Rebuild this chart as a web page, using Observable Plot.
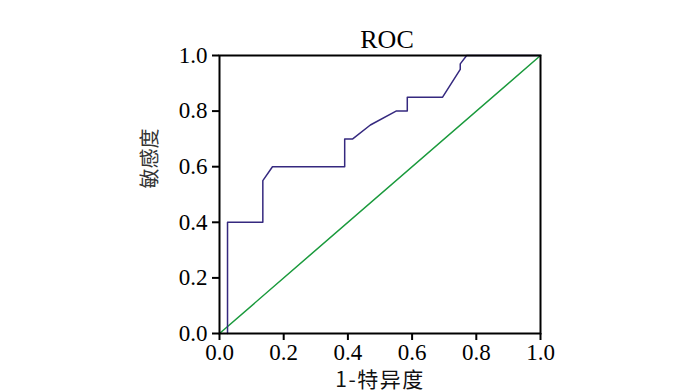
<!DOCTYPE html>
<html>
<head>
<meta charset="utf-8">
<script src="https://cdn.jsdelivr.net/npm/d3@7"></script>
<script src="https://cdn.jsdelivr.net/npm/@observablehq/plot@0.6"></script>
<style>
  html, body { margin: 0; padding: 0; background: #fff; }
</style>
</head>
<body>
<div id="chart"></div>
<script>
const rocFpr = [0.025, 0.025, 0.135, 0.135, 0.165, 0.39, 0.39, 0.415, 0.47, 0.55, 0.585, 0.585, 0.695, 0.75, 0.75, 0.77, 1.0];
const rocTpr = [0.0, 0.4, 0.4, 0.55, 0.6, 0.6, 0.7, 0.7, 0.75, 0.8, 0.8, 0.85, 0.85, 0.95, 0.97, 1.0, 1.0];
const refX = [0, 1];
const refY = [0, 1];
const tickValues = [0, 0.2, 0.4, 0.6, 0.8, 1.0];
const titleText = "ROC";
const xLabel = "1-特异度";
const yLabel = "敏感度";

const roc = rocFpr.map((x, i) => ({x, y: rocTpr[i]}));
const ref = refX.map((x, i) => ({x, y: refY[i]}));

const serif = "'Liberation Serif', 'DejaVu Serif', serif";
const cjk = "'Noto Sans CJK SC', sans-serif";

const chart = Plot.plot({
  width: 700,
  height: 392,
  marginLeft: 219,
  marginRight: 160,
  marginTop: 55,
  marginBottom: 59,
  style: {fontFamily: serif, fontSize: "22px", color: "#000", background: "#fff"},
  x: {domain: [0, 1]},
  y: {domain: [0, 1]},
  marks: [
    Plot.line(ref, {x: "x", y: "y", stroke: "#1a9a3c", strokeWidth: 1.5}),
    Plot.line(roc, {x: "x", y: "y", stroke: "#35297f", strokeWidth: 1.5}),
    Plot.frame({stroke: "#000", strokeWidth: 2}),
    Plot.axisX({ticks: tickValues, tickFormat: d3.format(".1f"), tickSize: 7, tickPadding: 3, label: null, fontSize: 23, fontFamily: serif, strokeWidth: 2}),
    Plot.axisY({ticks: tickValues, tickFormat: d3.format(".1f"), tickSize: 7, tickPadding: 5, label: null, fontSize: 23, fontFamily: serif, strokeWidth: 2}),
    Plot.text([titleText], {frameAnchor: "top", dx: 7, dy: -8, lineAnchor: "bottom", text: d => d, fontSize: 26, fontFamily: serif}),
    Plot.text([xLabel], {frameAnchor: "bottom", dy: 47, lineAnchor: "middle", text: d => d, fontSize: 21, fontFamily: cjk, fill: "#111"}),
    Plot.text([yLabel], {frameAnchor: "left", dx: -69, dy: -6, rotate: -90, lineAnchor: "middle", text: d => d, fontSize: 20, fontFamily: cjk, fill: "#333"})
  ]
});
document.getElementById("chart").appendChild(chart);
chart.querySelectorAll("g[aria-label$='tick label']").forEach(g => {
  g.style.fontFamily = serif;
  g.style.fontSize = "23px";
});
chart.querySelectorAll("g[aria-label='text'] text").forEach(t => {
  if (t.textContent === xLabel) { t.style.fontFamily = cjk; t.style.letterSpacing = "1.5px"; }
  if (t.textContent === yLabel) { t.style.fontFamily = cjk; }
});
</script>
</body>
</html>
